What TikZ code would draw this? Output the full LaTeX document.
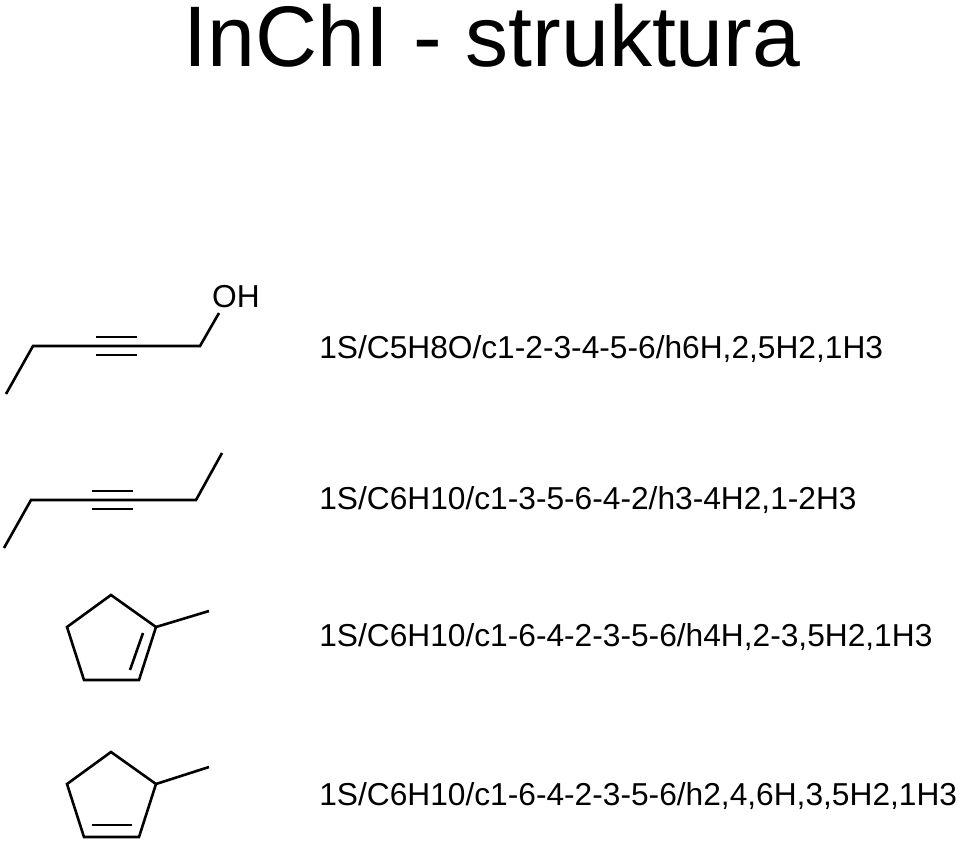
\documentclass[tikz,border=0pt]{standalone}
\usepackage{fontspec}
\setmainfont{Liberation Sans}
\begin{document}
\begin{tikzpicture}[x=1pt,y=-1pt,line width=2.6pt,
  bnd/.style={line join=miter},
  lbl/.style={anchor=west,inner sep=0pt,font=\fontsize{31.7}{34}\selectfont}]
\useasboundingbox (0,0) rectangle (960,841);
\node[inner sep=0pt,font=\fontsize{86}{90}\selectfont] (title) at (492,36) {InChI - struktura};
% mol 1
\coordinate (a1) at (6,394); \coordinate (a2) at (33,346); \coordinate (a3) at (200,346); \coordinate (a4) at (219,313);
\draw[bnd] (a1)--(a2)--(a3)--(a4);
\draw (96,337)--(137,337) (96,355)--(137,355);
\node[inner sep=0pt,font=\fontsize{31.7}{34}\selectfont] (oh) at (236,297) {OH};
\node[lbl] (t1) at (318,349) {1S/C5H8O/c1-2-3-4-5-6/h6H,2,5H2,1H3};
% mol 2
\coordinate (b1) at (4,548); \coordinate (b2) at (31,500); \coordinate (b3) at (196,500); \coordinate (b4) at (222,453);
\draw[bnd] (b1)--(b2)--(b3)--(b4);
\draw (92,491)--(133,491) (92,509)--(133,509);
\node[lbl] (t2) at (318,500) {1S/C6H10/c1-3-5-6-4-2/h3-4H2,1-2H3};
% ring 1
\draw[bnd] (111,595)--(67,627)--(84,680)--(139,680)--(156,627)--cycle;
\draw (156,627)--(209,611);
\draw (143,633)--(130,670);
\node[lbl] (t3) at (318,637) {1S/C6H10/c1-6-4-2-3-5-6/h4H,2-3,5H2,1H3};
% ring 2
\draw[bnd] (111,752)--(67,784)--(84,837)--(139,837)--(156,784)--cycle;
\draw (156,784)--(209,767);
\draw (92,825)--(132,825);
\node[lbl] (t4) at (318,796) {1S/C6H10/c1-6-4-2-3-5-6/h2,4,6H,3,5H2,1H3};
\end{tikzpicture}
\end{document}
